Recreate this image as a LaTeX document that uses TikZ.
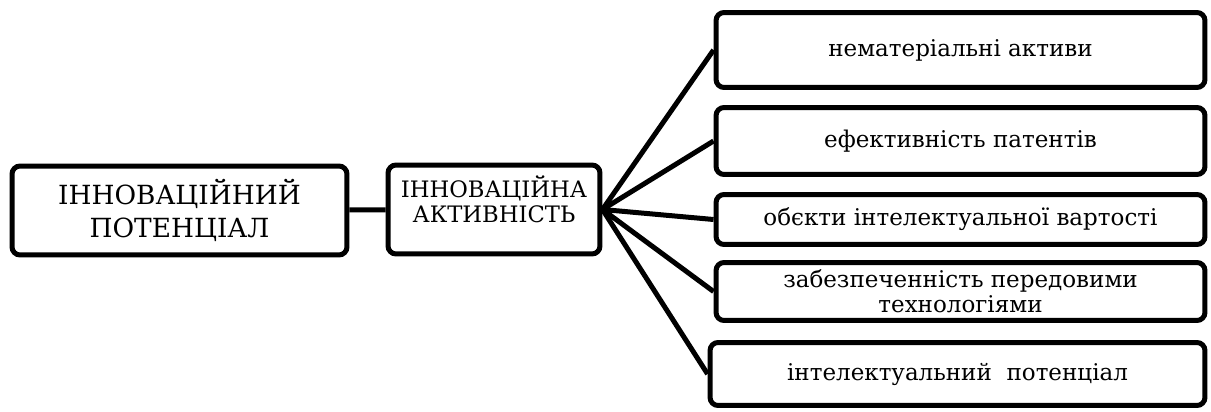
\documentclass[tikz,border=0pt]{standalone}
\usepackage{fontspec}
\setmainfont{DejaVu Serif}

\begin{document}
\begin{tikzpicture}[x=0.02cm, y=-0.02cm,
        box/.style={draw, line width=0.1cm, rounded corners=0.16cm, inner sep=2pt, align=center},
        link/.style={line width=0.1cm}]
    \useasboundingbox (0,0) rectangle (1211,412);

    \node[box, minimum width=6.7cm, minimum height=1.78cm, font=\fontsize{15}{18.5}\selectfont] (pot) at (179.5,210.5) {ІННОВАЦІЙНИЙ\\ПОТЕНЦІАЛ};
    \node[box, minimum width=4.24cm, minimum height=1.78cm, font=\fontsize{12.9}{14.5}\selectfont] (akt) at (494,209.5) {ІННОВАЦІЙНА\\АКТИВНІСТЬ\\[-3pt]};

    \node[box, minimum width=9.78cm, minimum height=1.5cm, font=\fontsize{13.1}{15}\selectfont] (nemat) at (960.5,50) {нематеріальні активи};
    \node[box, minimum width=9.78cm, minimum height=1.34cm, font=\fontsize{13.1}{15}\selectfont] (patent) at (960.5,141) {ефективність патентів};
    \node[box, minimum width=9.78cm, minimum height=1.0cm, font=\fontsize{13.1}{15}\selectfont] (obj) at (960.5,219.5) {обєкти інтелектуальної вартості};
    \node[box, minimum width=9.78cm, minimum height=1.16cm, font=\fontsize{13.1}{14}\selectfont] (tech) at (960.5,291.5) {забезпеченність передовими\\технологіями};
    \node[box, minimum width=9.9cm, minimum height=1.26cm, font=\fontsize{13.1}{15}\selectfont] (intel) at (957.5,374) {інтелектуальний\ \ потенціал};

    \draw[link] (pot) -- (akt);
    \draw[link] (akt.east) -- (nemat.west);
    \draw[link] (akt.east) -- (patent.west);
    \draw[link] (akt.east) -- (obj.west);
    \draw[link] (akt.east) -- (tech.west);
    \draw[link] (akt.east) -- (intel.west);
\end{tikzpicture}
\end{document}
